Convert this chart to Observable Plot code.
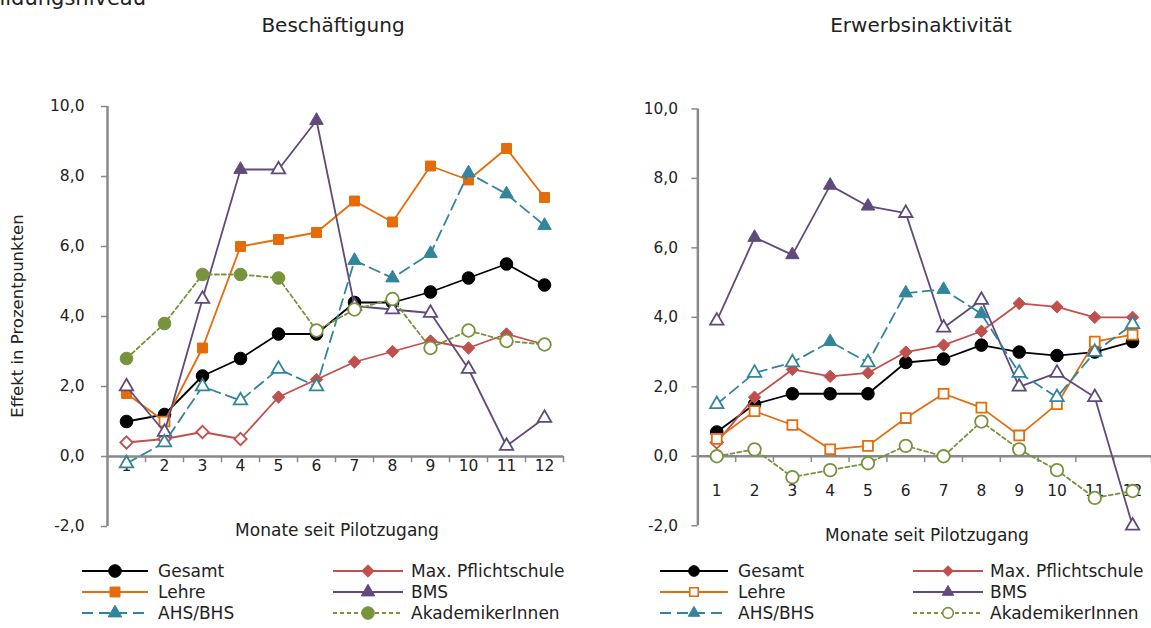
<!DOCTYPE html>
<html><head><meta charset="utf-8">
<script src="https://cdn.jsdelivr.net/npm/d3@7"></script>
<script src="https://cdn.jsdelivr.net/npm/@observablehq/plot@0.6"></script>
<style>
body{margin:0;background:#fff;font-family:"DejaVu Sans",sans-serif;color:#222;}
#root{position:relative;width:1151px;height:628px;overflow:hidden;background:#fff;}
.abs{position:absolute;white-space:nowrap;line-height:1;}
</style></head><body><div id="root"></div>
<script>
// ---- data ----
const months = [1,2,3,4,5,6,7,8,9,10,11,12];
const yTicks = [-2,0,2,4,6,8,10];
const seriesNames = ["Gesamt","Max. Pflichtschule","Lehre","BMS","AHS/BHS","AkademikerInnen"];
const seriesColors = ["#000000","#c0504d","#e46c0a","#604a7b","#31859c","#77933c"];
const seriesSymbols = ["circle","diamond2","square","triangle","triangle","circle"];
const seriesDash = [null,null,null,null,"11,6","4,3"];

// Beschäftigung
const beschGesamt = [1.0,1.2,2.3,2.8,3.5,3.5,4.4,4.4,4.7,5.1,5.5,4.9];
const beschMax    = [0.4,0.5,0.7,0.5,1.7,2.2,2.7,3.0,3.3,3.1,3.5,3.2];
const beschLehre  = [1.8,1.0,3.1,6.0,6.2,6.4,7.3,6.7,8.3,7.9,8.8,7.4];
const beschBMS    = [2.0,0.7,4.5,8.2,8.2,9.6,4.3,4.2,4.1,2.5,0.3,1.1];
const beschAHS    = [-0.2,0.4,2.0,1.6,2.5,2.0,5.6,5.1,5.8,8.1,7.5,6.6];
const beschAkad   = [2.8,3.8,5.2,5.2,5.1,3.6,4.2,4.5,3.1,3.6,3.3,3.2];
// significance (1 = filled marker, 0 = hollow)
const beschGesamtSig = [1,1,1,1,1,1,1,1,1,1,1,1];
const beschMaxSig    = [0,0,0,0,1,1,1,1,1,1,1,1];
const beschLehreSig  = [1,0,1,1,1,1,1,1,1,1,1,1];
const beschBMSSig    = [0,0,0,1,0,1,0,0,0,0,0,0];
const beschAHSSig    = [0,0,0,0,0,0,1,1,1,1,1,1];
const beschAkadSig   = [1,1,1,1,1,0,0,0,0,0,0,0];

// Erwerbsinaktivität
const erwGesamt = [0.7,1.5,1.8,1.8,1.8,2.7,2.8,3.2,3.0,2.9,3.0,3.3];
const erwMax    = [0.4,1.7,2.5,2.3,2.4,3.0,3.2,3.6,4.4,4.3,4.0,4.0];
const erwLehre  = [0.5,1.3,0.9,0.2,0.3,1.1,1.8,1.4,0.6,1.5,3.3,3.5];
const erwBMS    = [3.9,6.3,5.8,7.8,7.2,7.0,3.7,4.5,2.0,2.4,1.7,-2.0];
const erwAHS    = [1.5,2.4,2.7,3.3,2.7,4.7,4.8,4.1,2.4,1.7,3.0,3.8];
const erwAkad   = [0.0,0.2,-0.6,-0.4,-0.2,0.3,0.0,1.0,0.2,-0.4,-1.2,-1.0];
const erwGesamtSig = [1,1,1,1,1,1,1,1,1,1,1,1];
const erwMaxSig    = [0,1,1,1,1,1,1,1,1,1,1,1];
const erwLehreSig  = [0,0,0,0,0,0,0,0,0,0,0,0];
const erwBMSSig    = [0,1,1,1,1,0,0,0,0,0,0,0];
const erwAHSSig    = [0,0,0,1,0,1,1,1,0,0,0,0];
const erwAkadSig   = [0,0,0,0,0,0,0,0,0,0,0,0];

const titleLeft = "Beschäftigung";
const titleRight = "Erwerbsinaktivität";
const xTitle = "Monate seit Pilotzugang";
const yTitle = "Effekt in Prozentpunkten";
const topFragment = "nach Bildungsniveau";

// ---- drawing ----
const root = document.getElementById("root");
const axisGray = "#898989";
const textCol = "#222";
const fontFam = '"DejaVu Sans", sans-serif';
const symR = {circle:6.3, square:5.6, diamond2:5.6, triangle:5.0};
const fmt = d => d.toFixed(1).replace(".", ",");
const boundaries = months.map(m => m + 0.5);

function div(text, css) {
  const d = document.createElement("div");
  d.className = "abs";
  d.textContent = text;
  Object.assign(d.style, css);
  root.appendChild(d);
  return d;
}

function panel(cfg) {
  const marks = [
    Plot.ruleY([0], {stroke: axisGray, strokeWidth: 2.5}),
    Plot.ruleX([0.5], {stroke: axisGray, strokeWidth: 2.5}),
    Plot.ruleX(boundaries, {y1: 0, y2: -0.18, stroke: axisGray, strokeWidth: 1.5}),
    Plot.axisY({ticks: yTicks, tickFormat: fmt, tickSize: 6, tickPadding: cfg.tickPadding,
      stroke: axisGray, strokeWidth: 1.5, fill: textCol, fontSize: 15.5, label: null}),
    Plot.text(months, {x: d => d, y: 0, dy: cfg.monthDy, text: d => String(d), fontSize: 15.5, fill: textCol})
  ];
  cfg.values.forEach((vals, s) => {
    const rows = months.map((m, i) => ({m, v: vals[i], sig: cfg.sig[s][i]}));
    const color = seriesColors[s];
    marks.push(Plot.line(rows, {x: "m", y: "v", stroke: color, strokeWidth: 1.8,
      strokeDasharray: seriesDash[s] || undefined}));
    const sym = seriesSymbols[s];
    marks.push(Plot.dot(rows.filter(d => !d.sig), {x: "m", y: "v", symbol: sym, r: symR[sym],
      fill: "white", stroke: color, strokeWidth: 1.8}));
    marks.push(Plot.dot(rows.filter(d => d.sig), {x: "m", y: "v", symbol: sym, r: symR[sym],
      fill: color, stroke: color, strokeWidth: 1}));
  });
  const svg = Plot.plot({
    width: cfg.width, height: cfg.height,
    marginLeft: cfg.marginLeft, marginRight: cfg.marginRight,
    marginTop: cfg.marginTop, marginBottom: cfg.marginBottom,
    x: {domain: [0.5, 12.5], axis: null},
    y: {domain: [-2, 10]},
    style: {fontFamily: fontFam, background: "transparent", overflow: "visible"},
    marks
  });
  const wrap = document.createElement("div");
  wrap.style.position = "absolute";
  wrap.style.left = cfg.left + "px";
  wrap.style.top = "0px";
  wrap.appendChild(svg);
  root.appendChild(wrap);
}

panel({
  left: 0, width: 575, height: 560, marginLeft: 107, marginRight: 12, marginTop: 106, marginBottom: 34,
  tickPadding: 17, monthDy: 10,
  values: [beschGesamt, beschMax, beschLehre, beschBMS, beschAHS, beschAkad],
  sig: [beschGesamtSig, beschMaxSig, beschLehreSig, beschBMSSig, beschAHSSig, beschAkadSig]
});
panel({
  left: 576, width: 578, height: 560, marginLeft: 122, marginRight: 0, marginTop: 109, marginBottom: 32,
  tickPadding: 14, monthDy: 35,
  values: [erwGesamt, erwMax, erwLehre, erwBMS, erwAHS, erwAkad],
  sig: [erwGesamtSig, erwMaxSig, erwLehreSig, erwBMSSig, erwAHSSig, erwAkadSig]
});

// texts
div(topFragment, {right: (1151 - 146) + "px", top: "-12px", fontSize: "21px", color: textCol});
div(titleLeft, {left: "333px", top: "15px", fontSize: "20px", color: textCol, transform: "translateX(-50%)"});
div(titleRight, {left: "921px", top: "15px", fontSize: "20px", color: textCol, transform: "translateX(-50%)"});
div(xTitle, {left: "337px", top: "522px", fontSize: "17px", color: textCol, transform: "translateX(-50%)"});
div(xTitle, {left: "927px", top: "527px", fontSize: "17px", color: textCol, transform: "translateX(-50%)"});
div(yTitle, {left: "18px", top: "316px", fontSize: "16.5px", color: textCol, transform: "translate(-50%,-50%) rotate(-90deg)"});

// legends
const legendSvg = d3.select(root).append("svg")
  .attr("width", 1151).attr("height", 628)
  .style("position", "absolute").style("left", 0).style("top", 0)
  .style("font-family", fontFam);
const legendRows = [571, 592, 613];
const legendPanels = [
  {cols: [{x0: 82, x1: 148, tx: 158}, {x0: 333, x1: 403, tx: 411}],
   sig: [beschGesamtSig, beschMaxSig, beschLehreSig, beschBMSSig, beschAHSSig, beschAkadSig], scale: 1},
  {cols: [{x0: 660, x1: 728, tx: 738}, {x0: 913, x1: 983, tx: 990}],
   sig: [erwGesamtSig, erwMaxSig, erwLehreSig, erwBMSSig, erwAHSSig, erwAkadSig], scale: 0.85}
];
const d3Sym = {circle: d3.symbolCircle, square: d3.symbolSquare, diamond2: d3.symbolDiamond2, triangle: d3.symbolTriangle};
legendPanels.forEach(p => {
  seriesNames.forEach((name, s) => {
    const col = p.cols[s % 2];
    const y = legendRows[Math.floor(s / 2)];
    const color = seriesColors[s];
    const filled = p.sig[s].some(v => v === 1);
    legendSvg.append("line")
      .attr("x1", col.x0).attr("x2", col.x1).attr("y1", y).attr("y2", y)
      .attr("stroke", color).attr("stroke-width", 1.8)
      .attr("stroke-dasharray", seriesDash[s]);
    const sym = seriesSymbols[s];
    const r = symR[sym] * p.scale;
    legendSvg.append("path")
      .attr("d", d3.symbol(d3Sym[sym], Math.PI * r * r)())
      .attr("transform", `translate(${(col.x0 + col.x1) / 2},${y})`)
      .attr("fill", filled ? color : "white")
      .attr("stroke", color).attr("stroke-width", filled ? 1 : 1.6);
    legendSvg.append("text")
      .attr("x", col.tx).attr("y", y).attr("dy", "0.35em")
      .attr("font-size", 17).attr("fill", textCol)
      .text(name);
  });
});
</script>
</body></html>
